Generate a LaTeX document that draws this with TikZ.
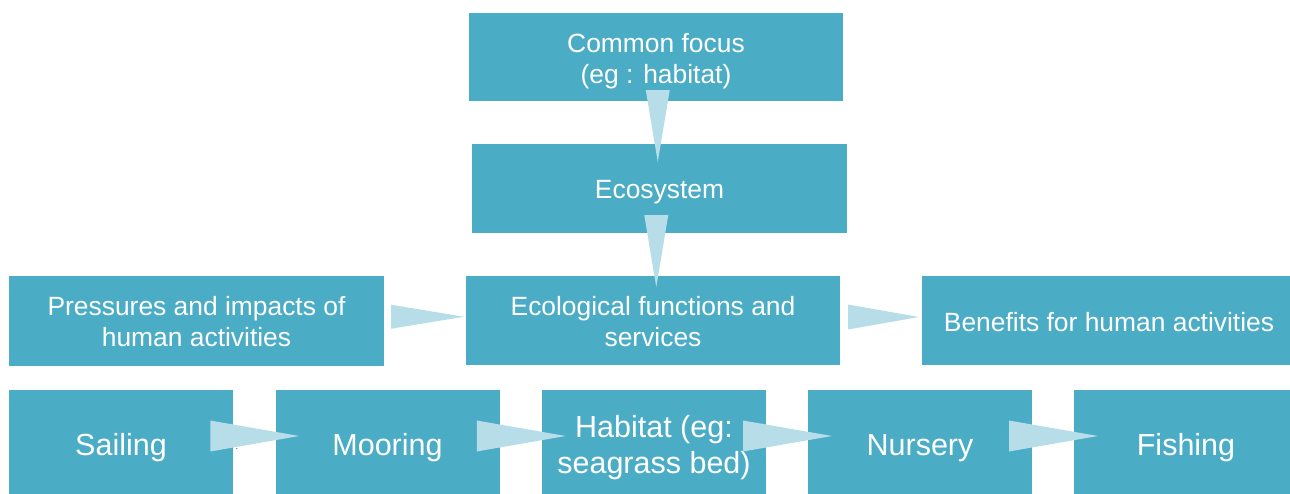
\documentclass[tikz,border=0pt]{standalone}
\usepackage{fontspec}
\setmainfont{Liberation Sans}
\usetikzlibrary{calc}
\definecolor{boxblue}{HTML}{4BACC6}
\definecolor{arrowblue}{HTML}{B6DDE8}
% a strut that lowers the first text line inside a box
\newcommand{\topstrut}[1]{\rule{0pt}{#1}}
\begin{document}
\begin{tikzpicture}[x=1pt,y=-1pt,
  box/.style={fill=boxblue, text=white, inner sep=0pt, align=center,
    font=\fontsize{26.4}{31}\selectfont},
  bigbox/.style={box, minimum width=224pt, minimum height=110pt,
    font=\fontsize{30.5}{36}\selectfont},
  arrowfill/.style={fill=arrowblue}]
\useasboundingbox (0,0) rectangle (1290,493);

% upper chain
\node[box, minimum width=374pt, minimum height=88pt] (focus) at (656,57)
  {\topstrut{28pt}Common focus\\(eg : habitat)};
\node[box, minimum width=375pt, minimum height=89pt] (eco) at (659.5,188.5)
  {\topstrut{25pt}Ecosystem};
\node[box, minimum width=374pt, minimum height=89pt] (func) at (653,320.5)
  {\topstrut{21pt}Ecological functions and\\services};
\node[box, minimum width=375pt, minimum height=90pt] (press) at (196.5,321)
  {\topstrut{21pt}Pressures and impacts of\\human activities};
\node[box, minimum width=374pt, minimum height=89pt] (benef) at (1109,320.5)
  {\topstrut{23pt}Benefits for human activities};

% lower chain
\node[bigbox] (sail) at (121,445) {\topstrut{26.5pt}Sailing};
\node[bigbox] (moor) at (387.5,445) {\topstrut{26.5pt}Mooring};
\node[bigbox] (hab)  at (654,445) {\topstrut{26.5pt}Habitat (eg:\\seagrass bed)};
\node[bigbox] (nurs) at (920,445) {\topstrut{26.5pt}Nursery};
\node[bigbox] (fish) at (1186,445) {\topstrut{26.5pt}Fishing};

\node[font=\fontsize{8}{8}\selectfont, inner sep=0pt] (dot) at (237,449) {.};

% vertical arrows
\path ($(focus.south)!0.5!(eco.north)$ -| 659,0) coordinate (t1);
\fill[arrowfill] ($(t1)+(-12,-32.5)$) -- ++(24,0) -- ++(-12,72) -- cycle;
\path ($(eco.south)!0.5!(func.north)$ -| 659,0) coordinate (t2);
\fill[arrowfill] ($(t2)+(-12,-39.5)$) -- ++(24,0) -- ++(-12,72) -- cycle;

% horizontal arrows, middle row
\fill[arrowfill] ($(press.east)!0.5!(func.west)+(-34,-16)$)
  -- ++(73,12) -- ++(-73,12) -- cycle;
\fill[arrowfill] ($(func.east)!0.5!(benef.west)+(-33,-16)$)
  -- ++(71,12.5) -- ++(-71,12.5) -- cycle;

% horizontal arrows, lower row
\foreach \a/\b in {sail/moor, moor/hab, hab/nurs, nurs/fish}
  \fill[arrowfill] ($(\a.east)!0.5!(\b.west)+(-44,-24.5)$)
    -- ++(89,15.5) -- ++(-89,15.5) -- cycle;
\end{tikzpicture}
\end{document}
